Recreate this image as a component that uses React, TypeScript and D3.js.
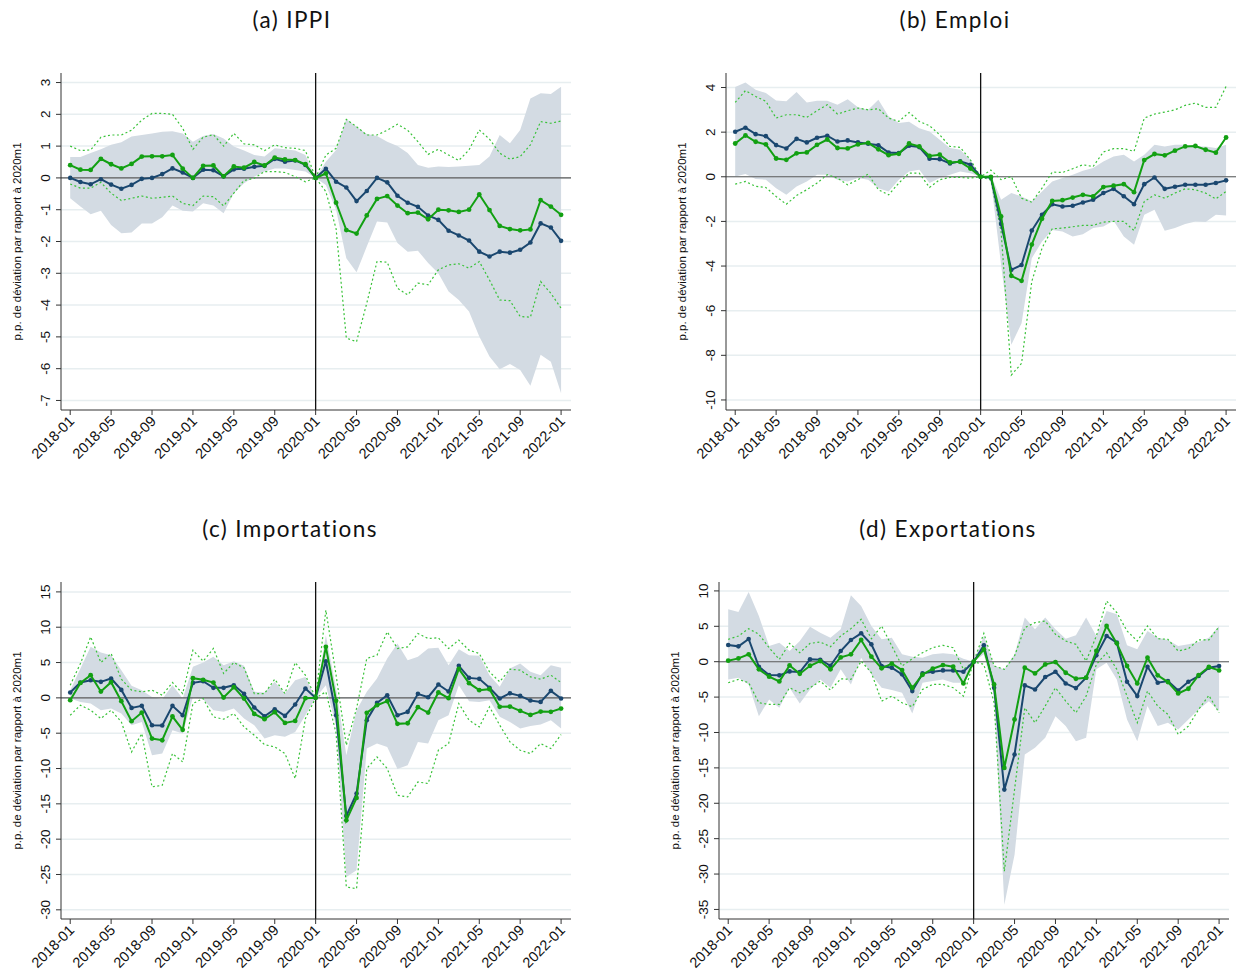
import React from "react";
import * as d3 from "d3";

// 49 monthly observations, 2018-01 .. 2022-01 (index 0..48)
const MONTHS: number[] = d3.range(49);
const TICK_IDX = [0, 4, 8, 12, 16, 20, 24, 28, 32, 36, 40, 44, 48];
const TICK_LABELS = ["2018-01", "2018-05", "2018-09", "2019-01", "2019-05", "2019-09", "2020-01", "2020-05", "2020-09", "2021-01", "2021-05", "2021-09", "2022-01"];
const Y_TITLE = "p.p. de déviation par rapport à 2020m1";

// (a) IPPI
const ippiBlue = [0.0,-0.13,-0.2,-0.04,-0.21,-0.34,-0.22,-0.03,0.0,0.12,0.3,0.17,0.0,0.26,0.24,0.05,0.27,0.29,0.35,0.38,0.6,0.51,0.55,0.41,0,
  0.29,-0.12,-0.3,-0.73,-0.41,0.0,-0.14,-0.56,-0.78,-0.91,-1.18,-1.32,-1.66,-1.81,-1.97,-2.32,-2.47,-2.32,-2.35,-2.26,-2.03,-1.43,-1.56,-1.98];
const ippiGreen = [0.4,0.26,0.25,0.6,0.43,0.3,0.44,0.67,0.68,0.68,0.72,0.29,0,0.38,0.39,0.05,0.36,0.32,0.5,0.39,0.64,0.58,0.56,0.43,0,
  0.14,-0.78,-1.64,-1.75,-1.18,-0.66,-0.57,-0.87,-1.11,-1.09,-1.3,-1.0,-1.02,-1.07,-1.0,-0.52,-1.01,-1.51,-1.61,-1.65,-1.62,-0.7,-0.9,-1.16];
const ippiBandHi = [0.66,0.66,0.78,0.9,1.04,1.12,1.3,1.35,1.4,1.45,1.47,1.4,1.14,1.32,1.38,1.24,0.99,0.86,0.72,0.67,0.93,0.9,0.86,0.72,0,
  0.51,0.88,1.85,1.61,1.38,1.32,1.14,1.0,0.78,0.41,0.32,0.36,0.34,0.36,0.38,0.41,0.67,1.35,1.09,1.51,2.5,2.66,2.64,2.87];
const ippiBandLo = [-0.64,-0.9,-1.14,-1.03,-1.48,-1.74,-1.72,-1.43,-1.43,-1.24,-0.87,-1.03,-1.06,-0.8,-0.87,-1.11,-0.48,-0.17,0.04,0.2,0.3,0.3,0.25,0.2,0,
  -0.22,-1.0,-2.53,-2.97,-2.16,-1.37,-1.4,-2.05,-2.32,-2.29,-2.68,-3.0,-3.57,-3.84,-4.2,-4.99,-5.62,-6.02,-5.85,-6.04,-6.54,-5.56,-5.78,-6.77];
const ippiGreenHi = [1.0,0.86,0.88,1.28,1.35,1.35,1.5,1.82,2.03,2.03,2.0,1.56,0.9,1.28,1.36,1.0,1.4,1.07,1.04,0.86,1.04,0.95,0.93,0.86,0,
  0.72,0.93,1.84,1.61,1.35,1.35,1.5,1.69,1.5,1.14,0.74,0.9,0.72,0.55,0.88,1.51,1.22,0.78,0.59,0.67,1.04,1.77,1.72,1.79];
const ippiGreenLo = [-0.19,-0.32,-0.32,-0.14,-0.48,-0.71,-0.64,-0.57,-0.64,-0.61,-0.57,-0.8,-0.87,-0.57,-0.59,-0.88,-0.48,-0.08,-0.01,0.2,0.2,0.17,0.04,-0.12,0,
  -0.43,-1.6,-5.04,-5.15,-3.94,-2.63,-2.65,-3.47,-3.68,-3.31,-3.36,-2.89,-2.74,-2.7,-2.84,-2.63,-3.21,-3.84,-3.86,-4.36,-4.38,-3.26,-3.63,-4.1];
const ippiTicks = [3, 2, 1, 0, -1, -2, -3, -4, -5, -6, -7];

// (b) Emploi
const empBlue = [2.02,2.2,1.91,1.82,1.42,1.27,1.7,1.54,1.75,1.84,1.58,1.63,1.54,1.48,1.41,1.09,1.06,1.39,1.33,0.81,0.79,0.6,0.69,0.54,0,
  -0.03,-2.12,-4.17,-3.95,-2.41,-1.7,-1.23,-1.33,-1.3,-1.15,-1.03,-0.73,-0.54,-0.87,-1.23,-0.33,-0.03,-0.54,-0.45,-0.36,-0.36,-0.36,-0.28,-0.16];
const empGreen = [1.49,1.85,1.57,1.45,0.82,0.76,1.05,1.09,1.43,1.67,1.29,1.27,1.45,1.52,1.23,0.97,1.03,1.49,1.36,0.93,0.99,0.64,0.67,0.37,0,
  0,-1.78,-4.44,-4.66,-3.04,-1.88,-1.08,-1.05,-0.93,-0.81,-0.88,-0.46,-0.4,-0.33,-0.69,0.75,1.02,0.96,1.17,1.36,1.38,1.21,1.08,1.76];
const empBandHi = [4.02,4.22,3.9,3.75,3.42,3.38,3.8,3.33,3.41,3.41,3.23,3.47,3.11,3.0,3.45,2.71,2.41,2.47,2.18,2.03,1.66,1.29,1.21,0.76,0,
  0.09,-1.03,-0.73,-0.88,-1.1,-0.66,-0.21,-0.06,0.09,0.27,0.39,0.69,0.91,0.99,0.69,0.99,1.43,1.36,1.43,1.43,1.36,1.36,1.29,1.43];
const empBandLo = [0.01,0.12,-0.1,-0.13,-0.51,-0.81,-0.43,-0.21,0.09,0.09,-0.13,-0.21,-0.06,-0.13,-0.51,-0.66,-0.13,0.24,0.31,-0.28,-0.06,0.09,0.24,0.16,0,
  -0.13,-3.95,-7.53,-6.56,-3.65,-2.9,-2.38,-2.45,-2.68,-2.57,-2.3,-2.23,-1.97,-2.68,-3.05,-1.7,-1.48,-2.42,-2.3,-2.12,-2.0,-2.03,-1.7,-1.73];
const empGreenHi = [3.33,3.86,3.6,3.38,2.63,2.78,2.78,2.66,2.96,3.23,2.81,2.96,3.08,3.0,3.05,2.63,2.48,2.88,2.48,2.29,1.88,1.36,1.32,0.76,0,
  0.3,-0.13,0.01,-0.96,-1.14,-0.51,0.21,0.19,0.36,0.54,0.46,1.11,1.26,1.26,1.14,2.63,2.81,2.9,3.0,3.2,3.3,3.11,3.11,4.05];
const empGreenLo = [-0.33,-0.21,-0.43,-0.48,-0.88,-1.23,-0.84,-0.58,-0.28,0.09,-0.06,-0.36,-0.13,0.12,-0.58,-0.81,-0.28,0.16,0.16,-0.48,-0.13,-0.03,-0.03,-0.06,0,
  -0.15,-2.45,-8.88,-8.36,-4.69,-3.2,-2.33,-2.3,-2.24,-2.18,-2.18,-2.03,-2.0,-2.0,-2.41,-1.11,-0.81,-0.96,-0.73,-0.54,-0.58,-0.73,-0.99,-0.66];
const empTicks = [4, 2, 0, -2, -4, -6, -8, -10];

// (c) Importations
const impBlue = [0.76,2.17,2.5,2.27,2.74,1.13,-1.42,-1.13,-3.87,-3.92,-1.13,-2.46,2.12,2.36,1.42,1.42,1.79,0.57,-1.37,-2.6,-1.61,-2.55,-0.94,1.32,0,
  5.19,-2.46,-16.71,-13.55,-3.16,-0.71,0.38,-2.46,-1.98,0.57,0.09,1.89,0.9,4.53,2.83,2.69,1.42,-0.09,0.66,0.28,-0.38,-0.57,0.99,-0.09];
const impGreen = [-0.33,2.12,3.21,0.9,2.22,-0.47,-3.3,-2.08,-5.76,-6.0,-2.64,-4.53,2.79,2.55,2.17,0.05,1.51,-0.09,-2.27,-3.02,-2.03,-3.54,-3.26,-0.05,0,
  7.22,-0.42,-17.33,-14.16,-2.12,-1.04,-0.47,-3.68,-3.59,-1.32,-2.08,0.76,-0.05,4.11,2.08,1.09,1.23,-1.27,-1.23,-1.84,-2.41,-1.94,-1.98,-1.51];
const impBandHi = [1.09,4.15,7.22,6.42,6.04,3.92,1.7,1.09,0.14,-0.19,1.79,-0.09,4.39,5.0,5.81,4.63,5.19,4.53,0.85,0.76,2.27,0.61,2.5,2.97,0,
  8.88,1.32,-8.12,-1.75,0.85,2.74,5.57,7.7,5.33,5.81,6.99,7.08,4.63,6.89,6.04,5.95,3.21,1.56,4.15,4.86,3.68,3.21,4.63,4.25];
const impBandLo = [-0.09,-0.57,-0.8,-1.75,-1.51,-2.22,-3.87,-3.4,-8.12,-7.88,-4.58,-5.05,0.14,-0.19,-1.75,-1.98,-1.51,-2.93,-3.87,-5.76,-5.29,-5.52,-4.82,-2.46,0,
  1.79,-4.0,-25.35,-24.4,-7.18,-6.47,-6.94,-10.06,-9.54,-6.23,-6.47,-3.16,-2.46,1.79,-0.47,-0.57,-0.33,-2.69,-3.4,-4.34,-3.97,-3.78,-3.16,-4.34];
const impGreenHi = [1.79,4.86,8.64,5.0,6.28,2.64,1.09,0.85,1.09,0.38,2.17,0.61,6.75,5.19,6.99,3.45,5.0,4.25,0.61,0.61,2.64,0.61,5.0,3.21,0,
  12.42,3.21,-6.7,-1.51,5.57,6.04,9.35,6.99,7.22,9.11,8.4,8.5,6.99,8.17,6.75,6.28,3.68,2.27,4.06,3.92,2.97,2.64,3.21,2.17];
const impGreenLo = [-2.46,-1.04,-1.75,-2.93,-1.75,-3.4,-7.65,-5.05,-12.6,-12.37,-7.88,-9.07,-0.8,-0.09,-2.69,-3.02,-2.22,-4.11,-5.29,-6.61,-6.94,-7.88,-11.43,-2.93,0,
  0.85,-5.0,-26.77,-27.0,-10.01,-8.36,-10.01,-13.79,-14.02,-11.9,-12.13,-7.41,-6.47,-0.8,-3.16,-4.11,-1.27,-3.87,-6.23,-7.41,-7.88,-6.47,-7.18,-5.19];
const impTicks = [15, 10, 5, 0, -5, -10, -15, -20, -25, -30];

// (d) Exportations
const expBlue = [2.36,2.17,3.21,-0.71,-1.89,-1.93,-1.37,-1.46,0.33,0.28,-0.57,1.51,3.07,4.01,2.45,-0.61,-0.85,-1.79,-4.15,-1.65,-1.42,-1.23,-1.23,-1.42,0,
  2.31,-3.68,-18.07,-13.11,-3.35,-3.92,-2.17,-1.42,-3.07,-3.73,-2.26,0.9,3.63,2.69,-2.83,-4.86,-0.71,-2.97,-2.74,-4.06,-2.83,-2.03,-0.85,-0.61];
const expGreen = [0.14,0.47,1.04,-1.08,-2.12,-2.78,-0.52,-1.7,-0.57,0.09,-1.08,0.61,1.04,3.07,0.71,-0.94,-0.28,-1.18,-3.68,-1.84,-0.99,-0.47,-0.71,-3.07,0,
  1.75,-3.21,-15.0,-8.16,-0.85,-1.65,-0.38,-0.05,-1.56,-2.41,-2.26,1.51,5.05,2.59,-0.61,-3.07,0.57,-1.93,-2.88,-4.48,-3.82,-1.89,-0.75,-1.23];
const expBandHi = [7.4,7.03,9.86,6.46,2.22,2.69,1.51,2.92,4.95,4.1,3.4,4.58,9.39,7.88,5.05,3.16,3.4,1.04,0.71,0.57,1.04,1.18,1.04,0.42,0,
  3.63,-0.61,-1.08,1.04,6.23,4.58,6.23,4.58,3.25,3.73,6.23,3.63,7.17,6.7,2.31,1.75,4.34,3.4,3.07,2.22,2.45,2.78,3.4,5.05];
const expBandLo = [-2.5,-2.26,-3.21,-7.69,-5.33,-6.51,-3.68,-5.9,-3.92,-2.5,-3.68,-1.08,-3.21,0.57,-1.79,-3.68,-4.01,-4.39,-7.31,-2.97,-2.74,-2.5,-2.97,-2.97,0,
  1.04,-4.86,-34.34,-27.26,-13.11,-12.17,-10.75,-7.69,-9.1,-11.23,-10.75,-1.08,-0.14,-2.5,-8.16,-11.23,-6.27,-9.1,-8.63,-9.58,-8.16,-6.75,-5.57,-6.98];
const expGreenHi = [3.16,3.63,4.67,3.87,1.98,0.33,2.59,1.27,2.59,2.78,2.12,3.63,4.67,5.99,3.25,5.05,2.22,-0.61,0.42,1.27,1.98,2.31,1.98,-1.08,0,
  4.01,-0.61,-1.08,0.8,4.81,5.52,5.75,3.87,2.92,2.45,0.09,3.63,8.58,6.93,4.34,2.92,5.05,3.25,3.16,1.51,1.84,3.07,3.07,4.95];
const expGreenLo = [-2.97,-2.5,-2.97,-5.8,-6.04,-6.04,-3.68,-4.39,-3.68,-2.74,-4.01,-2.41,-2.5,0.09,-1.56,-5.57,-4.86,-5.8,-6.37,-3.92,-3.21,-3.21,-3.68,-4.86,0,
  -0.38,-5.8,-29.62,-18.07,-6.51,-8.63,-6.27,-3.68,-5.57,-7.22,-4.86,-0.38,1.27,-1.08,-4.86,-8.63,-4.15,-6.27,-7.45,-10.28,-9.1,-6.75,-4.76,-7.22];
const expTicks = [10, 5, 0, -5, -10, -15, -20, -25, -30, -35];

const BLUE = "#1a476f";
const GREEN = "#12a012";
const GREEN_DASH = "#39c239";
const BAND = "#d3dbe3";
const GRID = "#e7eef0";

type PanelDef = {
  title: string;
  blue: number[]; green: number[];
  bandHi: number[]; bandLo: number[];
  gHi: number[]; gLo: number[];
  ticks: number[];
  yDomain: [number, number];
  left: number; right: number; top: number; bottom: number;
  titleX: number; titleY: number;
};

const PANELS: PanelDef[] = [
  { title: "(a) IPPI", blue: ippiBlue, green: ippiGreen, bandHi: ippiBandHi, bandLo: ippiBandLo, gHi: ippiGreenHi, gLo: ippiGreenLo,
    ticks: ippiTicks, yDomain: [-7.3, 3.3], left: 61, right: 571, top: 73, bottom: 410, titleX: 292, titleY: 28 },
  { title: "(b) Emploi", blue: empBlue, green: empGreen, bandHi: empBandHi, bandLo: empBandLo, gHi: empGreenHi, gLo: empGreenLo,
    ticks: empTicks, yDomain: [-10.45, 4.65], left: 726, right: 1236, top: 73, bottom: 410, titleX: 955, titleY: 28 },
  { title: "(c) Importations", blue: impBlue, green: impGreen, bandHi: impBandHi, bandLo: impBandLo, gHi: impGreenHi, gLo: impGreenLo,
    ticks: impTicks, yDomain: [-31.3, 16.4], left: 61, right: 571, top: 582, bottom: 919, titleX: 290, titleY: 537 },
  { title: "(d) Exportations", blue: expBlue, green: expGreen, bandHi: expBandHi, bandLo: expBandLo, gHi: expGreenHi, gLo: expGreenLo,
    ticks: expTicks, yDomain: [-36.35, 11.26], left: 719, right: 1229, top: 582, bottom: 919, titleX: 948, titleY: 537 },
];

function Panel({ p }: { p: PanelDef }) {
  const x = d3.scaleLinear().domain([-0.9, 48.97]).range([p.left, p.right]);
  const y = d3.scaleLinear().domain(p.yDomain).range([p.bottom, p.top]);
  const band = d3.area<number>().x((i) => x(i)).y0((i) => y(p.bandLo[i])).y1((i) => y(p.bandHi[i]))(MONTHS) || "";
  const mk = (arr: number[]) => d3.line<number>().x((i) => x(i)).y((i) => y(arr[i]))(MONTHS) || "";
  const tickFont = "'Liberation Sans', Arial, sans-serif";
  const yMid = (p.top + p.bottom) / 2;
  return (
    <g>
      <text x={p.titleX} y={p.titleY} textAnchor="middle" fontFamily="Lato, 'Open Sans', sans-serif" fontSize={22.5} letterSpacing={1.4} fill="#111">{p.title}</text>
      {p.ticks.map((t) => (
        <line key={"g" + t} x1={p.left} x2={p.right} y1={y(t)} y2={y(t)} stroke={GRID} strokeWidth={1.5} />
      ))}
      <path d={band} fill={BAND} stroke="none" />
      <line x1={p.left} x2={p.right} y1={y(0)} y2={y(0)} stroke="#5a5a5a" strokeWidth={1.1} />
      <line x1={x(24)} x2={x(24)} y1={p.top} y2={p.bottom} stroke="#111" strokeWidth={1.3} />
      <path d={mk(p.gHi)} fill="none" stroke={GREEN_DASH} strokeWidth={1.2} strokeDasharray="2,2.5" />
      <path d={mk(p.gLo)} fill="none" stroke={GREEN_DASH} strokeWidth={1.2} strokeDasharray="2,2.5" />
      <path d={mk(p.blue)} fill="none" stroke={BLUE} strokeWidth={2} />
      {MONTHS.map((i) => (
        <circle key={"b" + i} cx={x(i)} cy={y(p.blue[i])} r={2.3} fill={BLUE} />
      ))}
      <path d={mk(p.green)} fill="none" stroke={GREEN} strokeWidth={2} />
      {MONTHS.map((i) => (
        <circle key={"c" + i} cx={x(i)} cy={y(p.green[i])} r={2.4} fill={GREEN} />
      ))}
      {/* axes */}
      <line x1={p.left} x2={p.left} y1={p.top} y2={p.bottom} stroke="#333" strokeWidth={1} />
      <line x1={p.left} x2={p.right} y1={p.bottom} y2={p.bottom} stroke="#333" strokeWidth={1} />
      {p.ticks.map((t) => (
        <g key={"t" + t}>
          <line x1={p.left - 5} x2={p.left} y1={y(t)} y2={y(t)} stroke="#333" strokeWidth={1} />
          <text transform={`translate(${p.left - 11},${y(t)}) rotate(-90)`} textAnchor="middle" fontFamily={tickFont} fontSize={13.5} fill="#111">{t}</text>
        </g>
      ))}
      {TICK_IDX.map((i, k) => (
        <g key={"x" + i}>
          <line x1={x(i)} x2={x(i)} y1={p.bottom} y2={p.bottom + 5} stroke="#333" strokeWidth={1} />
          <text transform={`translate(${x(i) + 5},${p.bottom + 12}) rotate(-45)`} textAnchor="end" fontFamily={tickFont} fontSize={14.5} fill="#111">{TICK_LABELS[k]}</text>
        </g>
      ))}
      <text transform={`translate(${p.left - 40},${yMid}) rotate(-90)`} textAnchor="middle" fontFamily={tickFont} fontSize={11.5} fill="#111">{Y_TITLE}</text>
    </g>
  );
}

export default function App() {
  return (
    <svg width={1236} height={975} style={{ position: "absolute", left: 0, top: 0, background: "#fff" }}>
      <rect x={0} y={0} width={1236} height={975} fill="#fff" />
      {PANELS.map((p) => (
        <Panel key={p.title} p={p} />
      ))}
    </svg>
  );
}
